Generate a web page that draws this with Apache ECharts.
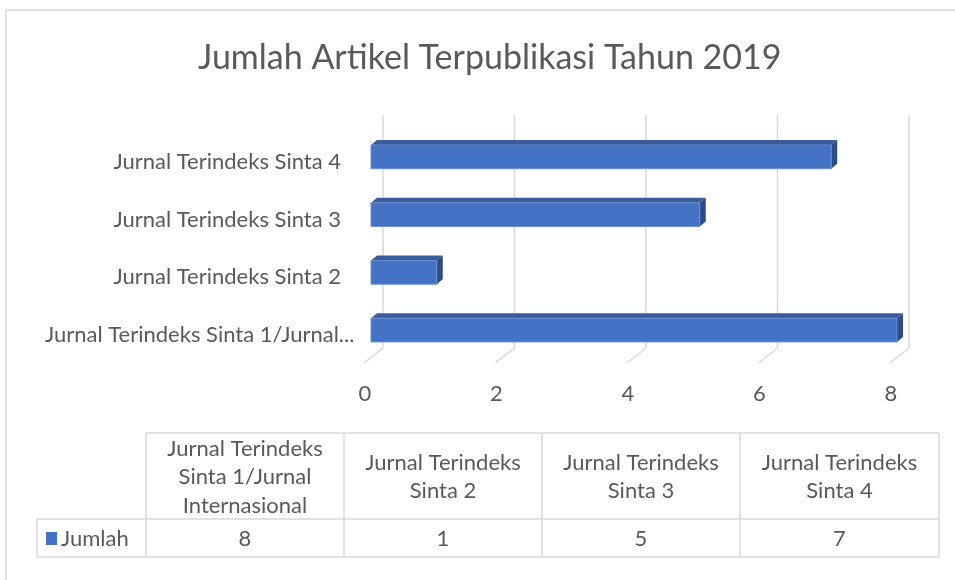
<!DOCTYPE html>
<html>
<head>
<meta charset="utf-8">
<script src="https://cdn.jsdelivr.net/npm/echarts@6/dist/echarts.min.js"></script>
<style>
  html, body { margin: 0; padding: 0; background: #fff; }
  #chart { width: 955px; height: 580px; }
</style>
</head>
<body>
<div id="chart"></div>
<script>
  // data
  const categories = [
    'Jurnal Terindeks Sinta 1/Jurnal Internasional',
    'Jurnal Terindeks Sinta 2',
    'Jurnal Terindeks Sinta 3',
    'Jurnal Terindeks Sinta 4'
  ];
  const tableHeaders = [
    'Jurnal Terindeks\nSinta 1/Jurnal\nInternasional',
    'Jurnal Terindeks\nSinta 2',
    'Jurnal Terindeks\nSinta 3',
    'Jurnal Terindeks\nSinta 4'
  ];
  const values = [8, 1, 5, 7];
  const xTicks = [0, 2, 4, 6, 8];
  const seriesName = 'Jumlah';

  const FONT = 'Lato, "Open Sans", sans-serif';
  const TXT = '#595959';
  const LINE = '#d9d9d9';
  const FS = 22;

  let dom = document.getElementById('chart');
  let myChart = echarts.init(dom);

  // data table under the chart
  const colX = [37, 146, 344, 542, 740, 939];
  const tTop = 433, tMid = 519, tBot = 557;
  let tableEls = [];
  function hline(x1, x2, y) {
    tableEls.push({type: 'line', shape: {x1: x1, y1: y, x2: x2, y2: y}, style: {stroke: LINE, lineWidth: 1.5}});
  }
  function vline(x, y1, y2) {
    tableEls.push({type: 'line', shape: {x1: x, y1: y1, x2: x, y2: y2}, style: {stroke: LINE, lineWidth: 1.5}});
  }
  hline(colX[1], colX[5], tTop);
  hline(colX[0], colX[5], tMid);
  hline(colX[0], colX[5], tBot);
  vline(colX[0], tMid, tBot);
  for (let i = 1; i < colX.length; i++) vline(colX[i], tTop, tBot);
  tableHeaders.forEach((h, i) => {
    tableEls.push({
      type: 'text',
      x: (colX[i + 1] + colX[i + 2]) / 2, y: (tTop + tMid) / 2 + 1,
      style: {text: h, fill: TXT, font: FS + 'px ' + FONT, align: 'center', verticalAlign: 'middle', lineHeight: 28.5}
    });
  });
  values.forEach((v, i) => {
    tableEls.push({
      type: 'text',
      x: (colX[i + 1] + colX[i + 2]) / 2, y: (tMid + tBot) / 2 + 1,
      style: {text: String(v), fill: TXT, font: FS + 'px ' + FONT, align: 'center', verticalAlign: 'middle'}
    });
  });
  tableEls.push({type: 'rect', shape: {x: 46, y: 532, width: 11, height: 13}, style: {fill: '#4472c4'}});
  tableEls.push({
    type: 'text', x: 61, y: (tMid + tBot) / 2 + 1,
    style: {text: seriesName, fill: TXT, font: FS + 'px ' + FONT, align: 'left', verticalAlign: 'middle'}
  });
  // outer chart frame
  tableEls.push({type: 'rect', shape: {x: 6, y: 10, width: 1000, height: 600}, style: {fill: null, stroke: LINE, lineWidth: 1.5}, z: -1});

  let option = {
    animation: false,
    title: {
      text: 'Jumlah Artikel Terpublikasi Tahun 2019',
      left: 193,
      top: 36,
      textStyle: {color: TXT, fontSize: 34, fontWeight: 'normal', fontFamily: FONT}
    },
    grid: {left: 371, right: 58, top: 128, bottom: 221},
    xAxis: {
      type: 'value',
      min: 0, max: 8, interval: 2,
      axisLine: {show: false},
      axisTick: {show: false},
      splitLine: {show: false},
      axisLabel: {color: TXT, fontSize: FS, fontFamily: FONT, margin: 24, padding: [0, 12, 0, 0]}
    },
    yAxis: {
      type: 'category',
      data: categories,
      axisLine: {show: false},
      axisTick: {show: false},
      axisLabel: {
        color: TXT, fontSize: FS, fontFamily: FONT, margin: 30,
        formatter: function (name) {
          // excel cuts the long label and lets it run a bit past the others
          if (name.length > 31) return '{long|' + name.slice(0, 31) + '...}';
          return '{n|' + name + '}';
        },
        rich: {
          n: {color: TXT, fontSize: FS, fontFamily: FONT, padding: [10, 0, 0, 0]},
          long: {color: TXT, fontSize: FS, fontFamily: FONT, padding: [10, 0, 0, 0], width: 296, align: 'left'}
        }
      }
    },
    graphic: tableEls,
    series: [
      {
        // 3d-ish gridlines: back wall + floor
        type: 'custom',
        silent: true,
        z: 1,
        data: xTicks.map(t => [t, 0]),
        encode: {x: 0},
        renderItem: function (params, api) {
          let cs = params.coordSys;
          let x = api.coord([api.value(0), 0])[0];
          let top = cs.y - 13, bot = cs.y + cs.height - 11, floor = cs.y + cs.height + 4;
          return {
            type: 'polyline',
            shape: {points: [[x + 12, top], [x + 12, bot], [x - 7, floor]]},
            style: {stroke: LINE, lineWidth: 1.5, fill: null}
          };
        }
      },
      {
        name: seriesName,
        type: 'custom',
        z: 2,
        data: values.map((v, i) => [v, i]),
        encode: {x: 0, y: 1},
        renderItem: function (params, api) {
          let p0 = api.coord([0, api.value(1)]);
          let p1 = api.coord([api.value(0), api.value(1)]);
          let h = api.size([0, 1])[1] * 0.41;
          let dx = 6, dy = 5;
          let x0 = p0[0], x1 = p1[0], yt = p0[1] - h / 2, yb = p0[1] + h / 2;
          return {
            type: 'group',
            children: [
              {type: 'polygon', shape: {points: [[x0, yt], [x1, yt], [x1 + dx, yt - dy], [x0 + dx, yt - dy]]}, style: {fill: '#3a5c9b'}},
              {type: 'polygon', shape: {points: [[x1, yt], [x1 + dx, yt - dy], [x1 + dx, yb - dy], [x1, yb]]}, style: {fill: '#2d4b85'}},
              {type: 'rect', shape: {x: x0, y: yt, width: x1 - x0, height: h}, style: {fill: '#4472c4', stroke: '#6a8fd3', lineWidth: 1}}
            ]
          };
        }
      }
    ]
  };

  if (option && typeof option === 'object') {
    myChart.setOption(option, true);
  }
</script>
</body>
</html>
